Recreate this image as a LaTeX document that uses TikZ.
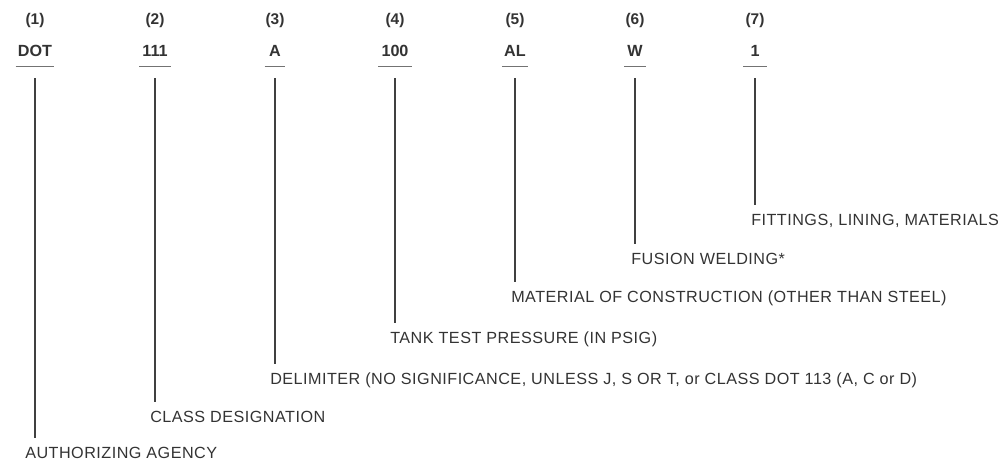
\documentclass[tikz,border=0pt]{standalone}
\usepackage{fontspec}
\setmainfont{Liberation Sans}
\begin{document}
\begin{tikzpicture}[x=0.25mm,y=0.25mm,
  num/.style={font=\bfseries\fontsize{11}{13}\selectfont,text=black!80,inner sep=0pt},
  code/.style={font=\bfseries\fontsize{11.5}{13}\selectfont,text=black!80,inner sep=0pt,text height=8.5pt,text depth=0pt},
  desc/.style={anchor=west,font=\fontsize{11.5}{13}\selectfont\addfontfeatures{LetterSpace=3},text=black!80,inner sep=0pt,text height=8.3pt,text depth=0pt},
  uline/.style={draw=black!55,line width=1pt},
  stem/.style={draw=black!75,line width=1.4pt}]
\useasboundingbox (0,0) rectangle (1003,-463);

\node[num] (n1) at (35,-21) {(1)};
\node[code] (c1) at (35,-51) {DOT};
\node[desc] (d1) at (25,-453) {AUTHORIZING AGENCY};
\draw[uline] ([xshift=-1.5pt,yshift=-6.4pt]c1.south west) -- ([xshift=1.5pt,yshift=-6.4pt]c1.south east);
\draw[stem] ([yshift=-15pt]c1.south) -- ([yshift=6pt]c1.south |- d1.north);

\node[num] (n2) at (155,-21) {(2)};
\node[code] (c2) at (155,-51) {111};
\node[desc] (d2) at (150,-417) {CLASS DESIGNATION};
\draw[uline] ([xshift=-2pt,yshift=-6.4pt]c2.south west) -- ([xshift=2pt,yshift=-6.4pt]c2.south east);
\draw[stem] ([yshift=-15pt]c2.south) -- ([yshift=6pt]c2.south |- d2.north);

\node[num] (n3) at (275,-21) {(3)};
\node[code] (c3) at (275,-51) {A};
\node[desc] (d3) at (270,-379) {DELIMITER (NO SIGNIFICANCE, UNLESS J, S OR T, or CLASS DOT 113 (A, C or D)};
\draw[uline] ([xshift=-3pt,yshift=-6.4pt]c3.south west) -- ([xshift=3pt,yshift=-6.4pt]c3.south east);
\draw[stem] ([yshift=-15pt]c3.south) -- ([yshift=6pt]c3.south |- d3.north);

\node[num] (n4) at (395,-21) {(4)};
\node[code] (c4) at (395,-51) {100};
\node[desc] (d4) at (390,-338) {TANK TEST PRESSURE (IN PSIG)};
\draw[uline] ([xshift=-2pt,yshift=-6.4pt]c4.south west) -- ([xshift=2pt,yshift=-6.4pt]c4.south east);
\draw[stem] ([yshift=-15pt]c4.south) -- ([yshift=6pt]c4.south |- d4.north);

\node[num] (n5) at (515,-21) {(5)};
\node[code] (c5) at (515,-51) {AL};
\node[desc] (d5) at (511,-297) {MATERIAL OF CONSTRUCTION (OTHER THAN STEEL)};
\draw[uline] ([xshift=-1.5pt,yshift=-6.4pt]c5.south west) -- ([xshift=1.5pt,yshift=-6.4pt]c5.south east);
\draw[stem] ([yshift=-15pt]c5.south) -- ([yshift=6pt]c5.south |- d5.north);

\node[num] (n6) at (635,-21) {(6)};
\node[code] (c6) at (635,-51) {W};
\node[desc] (d6) at (631,-259) {FUSION WELDING*};
\draw[uline] ([xshift=-2pt,yshift=-6.4pt]c6.south west) -- ([xshift=2pt,yshift=-6.4pt]c6.south east);
\draw[stem] ([yshift=-15pt]c6.south) -- ([yshift=6pt]c6.south |- d6.north);

\node[num] (n7) at (755,-21) {(7)};
\node[code] (c7) at (755,-51) {1};
\node[desc] (d7) at (751,-220) {FITTINGS, LINING, MATERIALS};
\draw[uline] ([xshift=-5pt,yshift=-6.4pt]c7.south west) -- ([xshift=5pt,yshift=-6.4pt]c7.south east);
\draw[stem] ([yshift=-15pt]c7.south) -- ([yshift=6pt]c7.south |- d7.north);
\end{tikzpicture}
\end{document}
